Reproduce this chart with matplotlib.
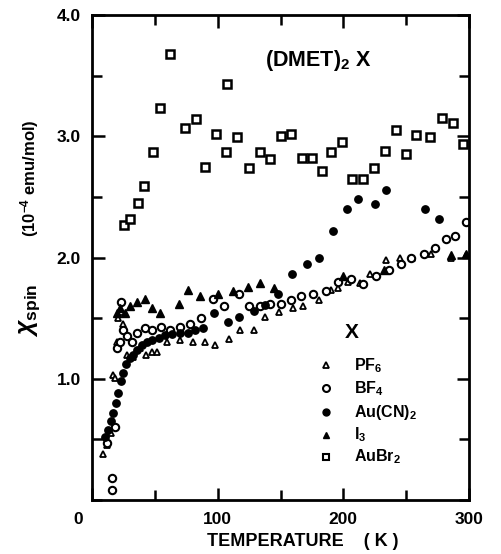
import matplotlib
matplotlib.use("Agg")
import matplotlib.pyplot as plt
import matplotlib.transforms as mtransforms
from matplotlib.ticker import MultipleLocator

plt.rcParams['font.family'] = ['Liberation Sans', 'DejaVu Sans']
plt.rcParams['mathtext.fontset'] = 'custom'
plt.rcParams['mathtext.rm'] = 'Liberation Sans:bold'
plt.rcParams['mathtext.bf'] = 'Liberation Sans:bold'
plt.rcParams['mathtext.it'] = 'Liberation Sans:italic:bold'

# ---- data (T in K, chi in 1e-4 emu/mol) ----
pf6_T = [9, 12, 15, 17, 18, 20, 21, 23, 25, 28, 33, 38, 43, 48, 52, 60, 70, 80, 90, 98, 109, 118, 129, 138,
         149, 160, 168, 181, 190, 196, 204, 213, 221, 234, 245, 255, 270, 286, 298]
pf6_chi = [0.38, 0.45, 0.55, 1.03, 1.01, 1.3, 1.5, 1.55, 1.45, 1.2, 1.18, 1.25, 1.2, 1.22, 1.22, 1.3, 1.32, 1.3,
           1.3, 1.28, 1.33, 1.40, 1.40, 1.51, 1.55, 1.58, 1.60, 1.65, 1.73, 1.75, 1.80, 1.79, 1.86, 1.98, 2.0,
           2.0, 2.03, 2.0, 2.02]

bf4_T = [12, 16, 16, 18, 20, 22, 23, 25, 28, 32, 36, 42, 48, 55, 62, 70, 78, 87, 96, 105, 117, 125, 134, 142,
         150, 158, 166, 176, 186, 196, 206, 216, 226, 236, 246, 254, 264, 273, 282, 289, 298]
bf4_chi = [0.47, 0.08, 0.18, 0.60, 1.25, 1.30, 1.63, 1.40, 1.35, 1.30, 1.38, 1.42, 1.40, 1.43, 1.40, 1.43,
           1.45, 1.50, 1.66, 1.60, 1.70, 1.60, 1.60, 1.62, 1.62, 1.65, 1.68, 1.70, 1.72, 1.80, 1.82, 1.78,
           1.85, 1.90, 1.95, 2.0, 2.03, 2.08, 2.15, 2.18, 2.29]

aucn_T = [10, 13, 15, 17, 19, 21, 23, 25, 27, 30, 33, 36, 40, 44, 48, 53, 58, 64, 70, 76, 82, 88, 97, 108,
          117, 129, 138, 148, 159, 171, 181, 192, 203, 212, 225, 234, 265, 276]
aucn_chi = [0.52, 0.58, 0.65, 0.72, 0.80, 0.88, 0.98, 1.05, 1.12, 1.17, 1.20, 1.24, 1.28, 1.30, 1.32, 1.34,
            1.36, 1.37, 1.38, 1.38, 1.40, 1.42, 1.54, 1.47, 1.51, 1.56, 1.61, 1.70, 1.86, 1.95, 2.00, 2.22,
            2.40, 2.48, 2.44, 2.56, 2.40, 2.32]

i3_T = [20, 22, 26, 30, 36, 42, 48, 54, 69, 76, 86, 100, 112, 124, 134, 145, 200, 232, 286, 298]
i3_chi = [1.54, 1.58, 1.54, 1.60, 1.63, 1.66, 1.58, 1.54, 1.62, 1.73, 1.68, 1.70, 1.72, 1.76, 1.79, 1.75,
          1.85, 1.90, 2.02, 2.03]

aubr_T = [25.6, 30.4, 36.6, 41.6, 48.6, 53.9, 61.9, 74.4, 82.4, 89.6, 98.4, 106.7, 107.2, 115, 125, 134,
          142, 150, 158, 167, 175, 183, 190.4, 199, 207, 216, 224.6, 233, 241.6, 249.6, 257.6, 268.8,
          278.4, 287, 295]
aubr_chi = [2.27, 2.32, 2.45, 2.59, 2.87, 3.23, 3.68, 3.07, 3.14, 2.75, 3.02, 2.87, 3.43, 2.99, 2.74, 2.87,
            2.81, 3.00, 3.02, 2.82, 2.82, 2.71, 2.87, 2.95, 2.65, 2.65, 2.74, 2.88, 3.05, 2.85, 3.01, 2.99,
            3.15, 3.11, 2.94]

legend_labels = ['PF$_6$', 'BF$_4$', 'Au(CN)$_2$', 'I$_3$', 'AuBr$_2$']

fig = plt.figure(figsize=(5.01, 5.54), dpi=100)
ax = fig.add_axes([92/501, 1-500/554, (469-92)/501, (500-15)/554])

ms_kw = dict(linestyle='none', color='black')
ax.plot(pf6_T, pf6_chi, marker='^', markersize=5, markerfacecolor='white', markeredgewidth=1.3, **ms_kw)
ax.plot(bf4_T, bf4_chi, marker='o', markersize=5.3, markerfacecolor='white', markeredgewidth=1.5, **ms_kw)
ax.plot(aucn_T, aucn_chi, marker='o', markersize=5.3, markerfacecolor='black', **ms_kw)
ax.plot(i3_T, i3_chi, marker='^', markersize=6, markerfacecolor='black', **ms_kw)
ax.plot(aubr_T, aubr_chi, marker='s', markersize=5.8, markerfacecolor='white', markeredgewidth=1.8, **ms_kw)

ax.set_xlim(0, 300)
ax.set_ylim(0, 4.0)
for s in ax.spines.values():
    s.set_linewidth(2)

ax.set_xticks([0, 100, 200, 300])
ax.set_xticklabels(['0', '100', '200', '300'], fontweight='bold', fontsize=12.5)
ax.xaxis.set_minor_locator(MultipleLocator(50))
ax.set_yticks([1.0, 2.0, 3.0, 4.0])
ax.set_yticklabels(['1.0', '2.0', '3.0', '4.0'], fontweight='bold', fontsize=12.5)
ax.yaxis.set_minor_locator(MultipleLocator(0.5))
ax.tick_params(which='both', direction='in', top=True, right=True, width=1.8)
ax.tick_params(which='major', length=9, pad=8)
ax.tick_params(which='minor', length=7)
ax.tick_params(axis='x', which='major', pad=9)

# shift the "0" label left as in the original
shift = mtransforms.ScaledTranslation(-14/100, 0, fig.dpi_scale_trans)
lbl0 = ax.get_xticklabels()[0]
lbl0.set_transform(lbl0.get_transform() + shift)

ax.text(0.46, 0.895, '(DMET)$_2$ X', transform=ax.transAxes, fontsize=15.5, fontweight='bold', ha='left')

# legend block
ax.text(0.67, 0.345, 'X', transform=ax.transAxes, fontsize=15, fontweight='bold', ha='left', va='center')
leg_markers = [dict(marker='^', markersize=5, markerfacecolor='white', markeredgewidth=1.3),
               dict(marker='o', markersize=5, markerfacecolor='white', markeredgewidth=1.5),
               dict(marker='o', markersize=5, markerfacecolor='black'),
               dict(marker='^', markersize=5, markerfacecolor='black'),
               dict(marker='s', markersize=5, markerfacecolor='white', markeredgewidth=1.5)]
ys = [0.278, 0.23, 0.181, 0.134, 0.089]
for lab, mk, yy in zip(legend_labels, leg_markers, ys):
    ax.plot([0.622], [yy], transform=ax.transAxes, linestyle='none', color='black', **mk)
    ax.text(0.695, yy, lab, transform=ax.transAxes, fontsize=11.5, fontweight='bold', ha='left', va='center')

fig.text(303/501, 1-542/554, 'TEMPERATURE    ( K )', fontsize=13, fontweight='bold', ha='center', va='center')
fig.text(30/501, 1-310/554, r'$\chi_{\mathrm{spin}}$', fontsize=18, rotation=90, ha='center', va='center')
fig.text(30/501, 1-178/554, r'(10$^{-4}$ emu/mol)', fontsize=12, fontweight='bold', rotation=90,
         ha='center', va='center')

fig.savefig('out.png', dpi=100)
